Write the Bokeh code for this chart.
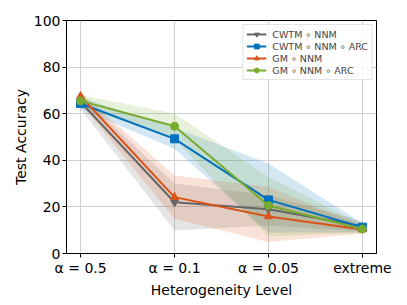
from bokeh.plotting import figure
from bokeh.models import FixedTicker, Range1d
from bokeh.embed import file_html
from bokeh.resources import INLINE

# ---- data ----
levels = ["α = 0.5", "α = 0.1", "α = 0.05", "extreme"]
x = [0, 1, 2, 3]

cwtm_nnm = [65.0, 22.0, 19.0, 11.7]
cwtm_nnm_lo = [62.0, 9.9, 12.0, 9.5]
cwtm_nnm_hi = [68.0, 30.0, 25.0, 13.8]

cwtm_nnm_arc = [64.4, 49.2, 23.0, 11.3]
cwtm_nnm_arc_lo = [62.0, 45.0, 9.0, 9.0]
cwtm_nnm_arc_hi = [67.0, 54.0, 38.6, 13.0]

gm_nnm = [67.5, 24.2, 15.9, 10.3]
gm_nnm_lo = [64.5, 14.9, 4.9, 8.5]
gm_nnm_hi = [69.0, 33.5, 28.5, 12.0]

gm_nnm_arc = [65.5, 54.6, 20.6, 10.5]
gm_nnm_arc_lo = [63.0, 49.0, 7.3, 9.0]
gm_nnm_arc_hi = [68.0, 60.1, 32.8, 12.5]

labels = ["CWTM \u2218 NNM", "CWTM \u2218 NNM \u2218 ARC", "GM \u2218 NNM", "GM \u2218 NNM \u2218 ARC"]
colors = ["#666666", "#0072BD", "#D95319", "#77AC30"]
markers = ["inverted_triangle", "square", "triangle", "circle"]

FONT = "DejaVu Sans"

p = figure(frame_width=310, frame_height=233,
           min_border_left=66, min_border_right=30, min_border_top=20, min_border_bottom=50,
           x_range=Range1d(-0.15, 3.15), y_range=Range1d(0, 100),
           output_backend="svg", toolbar_location=None)

series = [
    (cwtm_nnm, cwtm_nnm_lo, cwtm_nnm_hi),
    (cwtm_nnm_arc, cwtm_nnm_arc_lo, cwtm_nnm_arc_hi),
    (gm_nnm, gm_nnm_lo, gm_nnm_hi),
    (gm_nnm_arc, gm_nnm_arc_lo, gm_nnm_arc_hi),
]

for (m, lo, hi), c in zip(series, colors):
    p.varea(x=x, y1=lo, y2=hi, fill_color=c, fill_alpha=0.17)

for (m, lo, hi), c, mk, lab in zip(series, colors, markers, labels):
    p.line(x, m, line_color=c, line_width=2, legend_label=lab)
    p.scatter(x, m, marker=mk, size=8, fill_color=c, line_color=c, legend_label=lab)

# axes
p.xaxis.ticker = FixedTicker(ticks=x)
p.xaxis.major_label_overrides = {i: l for i, l in zip(x, levels)}
p.yaxis.ticker = FixedTicker(ticks=[0, 20, 40, 60, 80, 100])
p.xaxis.axis_label = "Heterogeneity Level"
p.yaxis.axis_label = "Test Accuracy"
for ax in (p.xaxis[0], p.yaxis[0]):
    ax.major_label_text_font = FONT
    ax.major_label_text_font_size = "14px"
    ax.major_label_text_color = "black"
    ax.axis_label_text_font = FONT
    ax.axis_label_text_font_size = "14px"
    ax.axis_label_text_font_style = "normal"
    ax.axis_label_text_color = "black"
    ax.axis_line_color = "black"
    ax.major_tick_line_color = "black"
    ax.major_tick_out = 4
    ax.major_tick_in = 0
    ax.minor_tick_line_color = None
    ax.major_label_standoff = 2
    ax.axis_label_standoff = 3
p.yaxis.axis_label_standoff = 2

p.xgrid.grid_line_color = "#d0d0d0"
p.ygrid.grid_line_color = "#d0d0d0"
p.xgrid.grid_line_width = 1
p.ygrid.grid_line_width = 1
p.outline_line_color = "black"
p.outline_line_width = 1
p.outline_line_alpha = 1

lg = p.legend[0]
lg.location = "top_right"
lg.label_text_font = FONT
lg.label_text_font_size = "9.5px"
lg.label_height = 12
lg.glyph_width = 20
lg.glyph_height = 12
lg.spacing = 0
lg.padding = 3
lg.margin = 4
lg.border_line_color = "#cccccc"
lg.border_line_width = 1
lg.background_fill_alpha = 0.8
lg.label_standoff = 6

open("out.html", "w").write(file_html(p, INLINE))
